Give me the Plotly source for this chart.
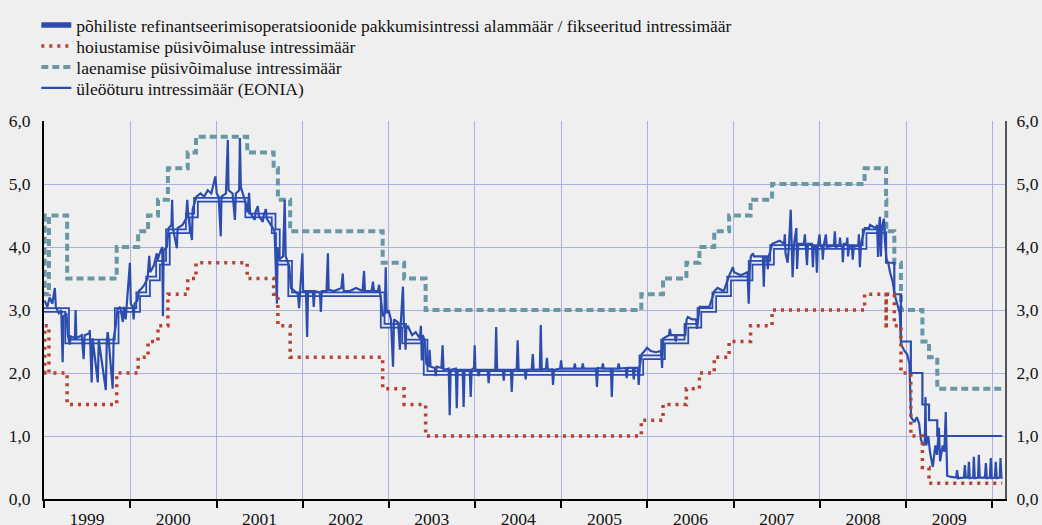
import pandas as pd
import plotly.graph_objects as go

# ECB key rates (step changes) and EONIA
mro_dates = ["1999-01-01", "1999-04-09", "1999-11-05", "2000-02-04", "2000-03-17", "2000-04-28",
             "2000-06-09", "2000-09-01", "2000-10-06", "2001-05-11", "2001-08-31", "2001-09-18",
             "2001-11-09", "2002-12-06", "2003-03-07", "2003-06-06", "2005-12-06", "2006-03-08",
             "2006-06-15", "2006-08-09", "2006-10-11", "2006-12-13", "2007-03-14", "2007-06-13",
             "2008-07-09", "2008-10-08", "2008-11-12", "2008-12-10", "2009-01-21", "2009-03-11",
             "2009-04-08", "2009-05-13", "2010-02-12"]
mro_values = [3.00, 2.50, 3.00, 3.25, 3.50, 3.75, 4.25, 4.50, 4.75, 4.50, 4.25, 3.75, 3.25, 2.75,
              2.50, 2.00, 2.25, 2.50, 2.75, 3.00, 3.25, 3.50, 3.75, 4.00, 4.25, 3.75, 3.25, 2.50,
              2.00, 1.50, 1.25, 1.00, 1.00]
fixed_rate_from = "2008-10-08"

deposit_dates = ["1999-01-01", "1999-01-04", "1999-01-22", "1999-04-09", "1999-11-05", "2000-02-04",
                 "2000-03-17", "2000-04-28", "2000-06-09", "2000-09-01", "2000-10-06", "2001-05-11",
                 "2001-08-31", "2001-09-18", "2001-11-09", "2002-12-06", "2003-03-07", "2003-06-06",
                 "2005-12-06", "2006-03-08", "2006-06-15", "2006-08-09", "2006-10-11", "2006-12-13",
                 "2007-03-14", "2007-06-13", "2008-07-09", "2008-10-08", "2008-10-09", "2008-11-12",
                 "2008-12-10", "2009-01-21", "2009-03-11", "2009-04-08", "2010-02-12"]
deposit_values = [2.00, 2.75, 2.00, 1.50, 2.00, 2.25, 2.50, 2.75, 3.25, 3.50, 3.75, 3.50, 3.25, 2.75,
                  2.25, 1.75, 1.50, 1.00, 1.25, 1.50, 1.75, 2.00, 2.25, 2.50, 2.75, 3.00, 3.25, 2.75,
                  3.25, 2.75, 2.00, 1.00, 0.50, 0.25, 0.25]

lending_dates = ["1999-01-01", "1999-01-04", "1999-01-22", "1999-04-09", "1999-11-05", "2000-02-04",
                 "2000-03-17", "2000-04-28", "2000-06-09", "2000-09-01", "2000-10-06", "2001-05-11",
                 "2001-08-31", "2001-09-18", "2001-11-09", "2002-12-06", "2003-03-07", "2003-06-06",
                 "2005-12-06", "2006-03-08", "2006-06-15", "2006-08-09", "2006-10-11", "2006-12-13",
                 "2007-03-14", "2007-06-13", "2008-07-09", "2008-10-08", "2008-10-09", "2008-11-12",
                 "2008-12-10", "2009-03-11", "2009-04-08", "2009-05-13", "2010-02-24"]
lending_values = [4.50, 3.25, 4.50, 3.50, 4.00, 4.25, 4.50, 4.75, 5.25, 5.50, 5.75, 5.50, 5.25, 4.75,
                  4.25, 3.75, 3.50, 3.00, 3.25, 3.50, 3.75, 4.00, 4.25, 4.50, 4.75, 5.00, 5.25, 4.75,
                  4.25, 3.75, 3.00, 2.50, 2.25, 1.75, 1.75]

eonia = [
    ("1999-01-04", 3.15), ("1999-01-15", 3.05), ("1999-01-25", 3.2), ("1999-02-05", 3.1),
    ("1999-02-16", 3.35), ("1999-02-20", 3.05), ("1999-03-05", 2.95), ("1999-03-15", 3.0),
    ("1999-03-21", 2.17), ("1999-03-25", 2.9), ("1999-04-06", 2.95), ("1999-04-12", 2.6),
    ("1999-04-20", 2.45), ("1999-04-24", 2.58), ("1999-05-12", 2.55), ("1999-05-15", 3.0),
    ("1999-05-18", 2.55), ("1999-06-10", 2.6), ("1999-06-18", 2.22), ("1999-06-22", 2.6),
    ("1999-07-12", 2.63), ("1999-07-14", 2.68), ("1999-07-22", 1.85), ("1999-07-26", 2.55),
    ("1999-08-17", 1.85), ("1999-08-21", 2.52), ("1999-09-20", 1.73), ("1999-09-24", 2.5),
    ("1999-09-28", 2.65), ("1999-10-02", 2.52), ("1999-10-19", 1.75), ("1999-10-23", 2.55),
    ("1999-11-01", 2.75), ("1999-11-08", 3.0), ("1999-11-20", 3.05), ("1999-12-01", 2.81),
    ("1999-12-05", 3.05), ("1999-12-13", 2.85), ("1999-12-18", 3.1), ("1999-12-31", 3.75),
    ("2000-01-04", 3.1), ("2000-01-12", 3.05), ("2000-01-16", 2.85), ("2000-01-20", 3.1),
    ("2000-02-01", 3.15), ("2000-02-07", 3.3), ("2000-02-20", 3.35), ("2000-03-01", 3.4),
    ("2000-03-15", 3.5), ("2000-03-22", 3.86), ("2000-03-26", 3.6), ("2000-04-10", 3.7),
    ("2000-04-23", 3.9), ("2000-04-27", 3.8), ("2000-05-05", 3.9), ("2000-05-16", 4.0),
    ("2000-05-19", 2.9), ("2000-05-22", 3.95), ("2000-06-05", 4.0), ("2000-06-12", 4.3),
    ("2000-06-24", 4.35), ("2000-06-27", 4.75), ("2000-06-30", 4.3), ("2000-07-17", 3.98),
    ("2000-07-20", 4.3), ("2000-08-10", 4.35), ("2000-08-25", 4.45), ("2000-08-30", 4.75),
    ("2000-09-03", 4.5), ("2000-09-19", 4.11), ("2000-09-22", 4.6), ("2000-10-08", 4.8),
    ("2000-10-25", 4.85), ("2000-11-10", 4.8), ("2000-11-25", 4.9), ("2000-12-10", 4.85),
    ("2000-12-27", 5.12), ("2001-01-02", 4.85), ("2001-01-10", 4.8), ("2001-01-19", 4.17),
    ("2001-01-22", 4.8), ("2001-02-10", 4.85), ("2001-02-18", 5.7), ("2001-02-21", 4.9),
    ("2001-03-10", 4.85), ("2001-03-20", 4.43), ("2001-03-24", 4.85), ("2001-04-07", 4.9),
    ("2001-04-10", 5.73), ("2001-04-14", 4.95), ("2001-05-05", 4.7), ("2001-05-12", 4.55),
    ("2001-05-19", 4.86), ("2001-05-23", 4.55), ("2001-06-12", 4.43), ("2001-06-15", 4.55),
    ("2001-06-25", 4.65), ("2001-06-29", 4.5), ("2001-07-16", 4.4), ("2001-07-20", 4.5),
    ("2001-07-29", 4.6), ("2001-08-02", 4.45), ("2001-08-28", 4.3), ("2001-09-04", 4.25),
    ("2001-09-14", 3.1), ("2001-09-17", 4.0), ("2001-09-21", 3.8), ("2001-10-10", 3.85),
    ("2001-10-17", 4.75), ("2001-10-21", 3.85), ("2001-11-05", 3.7), ("2001-11-12", 3.35),
    ("2001-11-28", 3.3), ("2001-12-12", 3.25), ("2001-12-17", 3.03), ("2001-12-21", 3.3),
    ("2001-12-31", 3.9), ("2002-01-03", 3.3), ("2002-01-15", 3.3), ("2002-01-20", 2.57),
    ("2002-01-24", 3.3), ("2002-02-13", 3.3), ("2002-02-17", 3.05), ("2002-02-21", 3.3),
    ("2002-03-15", 3.28), ("2002-03-19", 2.97), ("2002-03-23", 3.3), ("2002-04-12", 3.3),
    ("2002-04-18", 3.9), ("2002-04-21", 3.32), ("2002-05-15", 3.3), ("2002-06-14", 3.35),
    ("2002-06-20", 3.58), ("2002-06-24", 3.3), ("2002-07-20", 3.3), ("2002-08-15", 3.35),
    ("2002-09-12", 3.3), ("2002-09-18", 3.62), ("2002-09-22", 3.3), ("2002-10-20", 3.3),
    ("2002-10-26", 3.45), ("2002-10-30", 3.3), ("2002-11-16", 3.3), ("2002-11-21", 3.4),
    ("2002-11-25", 3.25), ("2002-12-02", 3.1), ("2002-12-07", 2.9), ("2002-12-15", 2.95),
    ("2002-12-19", 3.68), ("2002-12-23", 2.95), ("2002-12-31", 3.0), ("2003-01-10", 2.85),
    ("2003-01-19", 2.1), ("2003-01-23", 2.85), ("2003-02-10", 2.8), ("2003-02-17", 2.37),
    ("2003-02-21", 2.8), ("2003-03-02", 3.37), ("2003-03-06", 2.75), ("2003-03-10", 2.7),
    ("2003-03-13", 2.37), ("2003-03-16", 2.7), ("2003-03-22", 2.75), ("2003-04-10", 2.6),
    ("2003-04-25", 2.65), ("2003-05-13", 2.55), ("2003-05-17", 2.75), ("2003-05-21", 2.2),
    ("2003-05-25", 2.6), ("2003-06-03", 2.5), ("2003-06-09", 2.15), ("2003-06-19", 2.1),
    ("2003-06-23", 2.37), ("2003-06-27", 2.1), ("2003-07-15", 2.08), ("2003-07-19", 1.95),
    ("2003-07-23", 2.1), ("2003-08-12", 2.08), ("2003-08-17", 2.44), ("2003-08-21", 2.05),
    ("2003-09-12", 2.07), ("2003-09-16", 1.33), ("2003-09-20", 2.05), ("2003-10-12", 2.07),
    ("2003-10-16", 1.44), ("2003-10-20", 2.05), ("2003-11-10", 2.05), ("2003-11-14", 1.46),
    ("2003-11-18", 2.05), ("2003-12-10", 2.05), ("2003-12-14", 1.62), ("2003-12-18", 2.05),
    ("2003-12-28", 2.08), ("2003-12-31", 2.44), ("2004-01-03", 2.05), ("2004-01-13", 2.05),
    ("2004-01-17", 1.95), ("2004-01-21", 2.05), ("2004-02-24", 2.05), ("2004-02-28", 1.84),
    ("2004-03-03", 2.05), ("2004-03-27", 2.05), ("2004-03-31", 2.73), ("2004-04-04", 2.05),
    ("2004-04-28", 2.05), ("2004-05-02", 1.88), ("2004-05-06", 2.05), ("2004-06-01", 2.05),
    ("2004-06-05", 1.7), ("2004-06-09", 2.05), ("2004-06-26", 2.06), ("2004-06-30", 2.52),
    ("2004-07-04", 2.05), ("2004-07-30", 2.05), ("2004-08-03", 1.9), ("2004-08-07", 2.05),
    ("2004-08-29", 2.06), ("2004-09-02", 2.3), ("2004-09-06", 2.05), ("2004-10-02", 2.06),
    ("2004-10-06", 2.76), ("2004-10-10", 2.05), ("2004-10-28", 2.07), ("2004-11-01", 2.24),
    ("2004-11-05", 2.05), ("2004-11-23", 2.06), ("2004-11-27", 1.81), ("2004-12-01", 2.05),
    ("2004-12-27", 2.07), ("2004-12-31", 2.2), ("2005-01-04", 2.07), ("2005-02-24", 2.07),
    ("2005-02-27", 2.15), ("2005-03-03", 2.07), ("2005-03-29", 2.07), ("2005-04-02", 2.15),
    ("2005-04-06", 2.07), ("2005-05-28", 2.07), ("2005-06-01", 1.78), ("2005-06-05", 2.08),
    ("2005-06-22", 2.07), ("2005-06-26", 2.15), ("2005-06-30", 2.07), ("2005-07-30", 2.07),
    ("2005-08-03", 1.62), ("2005-08-07", 2.07), ("2005-08-28", 2.07), ("2005-09-01", 2.15),
    ("2005-09-05", 2.07), ("2005-10-01", 2.08), ("2005-10-05", 1.92), ("2005-10-09", 2.08),
    ("2005-10-31", 2.08), ("2005-11-04", 1.9), ("2005-11-08", 2.08), ("2005-11-21", 2.08),
    ("2005-11-25", 1.81), ("2005-11-29", 2.1), ("2005-12-08", 2.3), ("2005-12-20", 2.35),
    ("2005-12-30", 2.4), ("2006-01-15", 2.35), ("2006-02-05", 2.33), ("2006-02-28", 2.35),
    ("2006-03-04", 2.08), ("2006-03-09", 2.55), ("2006-04-02", 2.6), ("2006-04-06", 2.7),
    ("2006-04-10", 2.6), ("2006-04-27", 2.6), ("2006-05-01", 2.5), ("2006-05-05", 2.6),
    ("2006-06-10", 2.6), ("2006-06-16", 2.85), ("2006-06-21", 2.89), ("2006-07-10", 2.85),
    ("2006-07-26", 2.85), ("2006-07-30", 2.7), ("2006-08-03", 2.85), ("2006-08-10", 3.05),
    ("2006-09-20", 3.05), ("2006-10-12", 3.3), ("2006-10-25", 3.35), ("2006-11-20", 3.3),
    ("2006-12-14", 3.55), ("2006-12-29", 3.68), ("2007-01-03", 3.6), ("2007-02-01", 3.55),
    ("2007-03-01", 3.6), ("2007-03-06", 3.1), ("2007-03-10", 3.6), ("2007-03-15", 3.85),
    ("2007-03-24", 3.9), ("2007-03-28", 3.85), ("2007-04-10", 3.85), ("2007-05-05", 3.85),
    ("2007-05-09", 3.37), ("2007-05-13", 3.85), ("2007-05-22", 3.85), ("2007-05-26", 3.65),
    ("2007-05-30", 3.85), ("2007-06-14", 4.05), ("2007-07-15", 4.1), ("2007-08-03", 4.05),
    ("2007-08-06", 4.2), ("2007-08-09", 3.9), ("2007-08-18", 3.75), ("2007-08-24", 4.05),
    ("2007-08-31", 4.59), ("2007-09-04", 4.0), ("2007-09-08", 3.52), ("2007-09-14", 4.05),
    ("2007-09-24", 4.3), ("2007-09-27", 3.65), ("2007-10-02", 4.05), ("2007-10-26", 4.05),
    ("2007-10-30", 4.2), ("2007-11-03", 4.0), ("2007-11-08", 3.71), ("2007-11-12", 4.05),
    ("2007-11-29", 4.05), ("2007-12-03", 3.68), ("2007-12-07", 4.0), ("2007-12-16", 4.0),
    ("2007-12-20", 3.59), ("2007-12-24", 4.0), ("2007-12-31", 4.2), ("2008-01-04", 4.0),
    ("2008-01-11", 4.02), ("2008-01-14", 3.8), ("2008-01-18", 4.02), ("2008-01-27", 4.2),
    ("2008-01-31", 4.0), ("2008-03-01", 4.02), ("2008-03-05", 4.25), ("2008-03-09", 4.0),
    ("2008-03-24", 4.02), ("2008-03-27", 4.15), ("2008-03-31", 4.0), ("2008-04-05", 4.02),
    ("2008-04-08", 3.76), ("2008-04-12", 4.05), ("2008-04-24", 4.05), ("2008-04-27", 4.15),
    ("2008-04-30", 3.85), ("2008-05-04", 4.0), ("2008-05-16", 4.02), ("2008-05-20", 3.8),
    ("2008-05-24", 4.0), ("2008-06-12", 4.02), ("2008-06-15", 4.2), ("2008-06-19", 3.68),
    ("2008-06-24", 4.05), ("2008-07-10", 4.3), ("2008-07-28", 4.3), ("2008-08-01", 4.35),
    ("2008-08-25", 4.3), ("2008-08-31", 4.35), ("2008-09-04", 3.84), ("2008-09-08", 4.3),
    ("2008-09-12", 4.48), ("2008-09-16", 3.85), ("2008-09-20", 4.3), ("2008-09-29", 4.45),
    ("2008-10-03", 4.1), ("2008-10-10", 3.8), ("2008-10-17", 3.75), ("2008-10-25", 3.6),
    ("2008-11-05", 3.45), ("2008-11-13", 3.25), ("2008-11-20", 3.15), ("2008-12-05", 2.95),
    ("2008-12-11", 2.45), ("2008-12-25", 2.35), ("2009-01-05", 2.3), ("2009-01-15", 2.15),
    ("2009-01-22", 1.3), ("2009-02-05", 1.22), ("2009-02-15", 1.3), ("2009-02-25", 1.2),
    ("2009-03-05", 0.94), ("2009-03-15", 0.85), ("2009-03-21", 0.9), ("2009-03-24", 1.62),
    ("2009-03-27", 0.85), ("2009-04-05", 1.0), ("2009-04-12", 0.75), ("2009-04-24", 0.51),
    ("2009-05-05", 0.85), ("2009-05-12", 0.7), ("2009-05-20", 1.13), ("2009-05-25", 0.6),
    ("2009-06-05", 0.85), ("2009-06-12", 0.75), ("2009-06-18", 1.38), ("2009-06-24", 0.37),
    ("2009-07-10", 0.35), ("2009-08-01", 0.34), ("2009-08-05", 0.46), ("2009-08-09", 0.33),
    ("2009-09-03", 0.34), ("2009-09-07", 0.54), ("2009-09-11", 0.34), ("2009-09-21", 0.34),
    ("2009-09-24", 0.59), ("2009-09-28", 0.33), ("2009-10-12", 0.34), ("2009-10-15", 0.67),
    ("2009-10-19", 0.33), ("2009-11-02", 0.34), ("2009-11-05", 0.7), ("2009-11-09", 0.34),
    ("2009-12-01", 0.34), ("2009-12-05", 0.57), ("2009-12-09", 0.33), ("2009-12-22", 0.34),
    ("2009-12-26", 0.65), ("2009-12-30", 0.33), ("2010-01-12", 0.34), ("2010-01-16", 0.59),
    ("2010-01-20", 0.33), ("2010-02-02", 0.34), ("2010-02-05", 0.65), ("2010-02-09", 0.33),
    ("2010-02-13", 0.34),
]
eonia_dates = [d for d, _ in eonia]
eonia_values = [v for _, v in eonia]

names = [
    "põhiliste refinantseerimisoperatsioonide pakkumisintressi alammäär / fikseeritud intressimäär",
    "hoiustamise püsivõimaluse intressimäär",
    "laenamise püsivõimaluse intressimäär",
    "üleööturu intressimäär (EONIA)",
]
y_ticks = [0, 1, 2, 3, 4, 5, 6]

BLUE = "#2c4dae"
RED = "#b8402f"
TEAL = "#6897a6"
GRID = "#aab0e2"
BG = "#efefef"
FONT = "Liberation Serif"

mro = pd.DataFrame({"date": pd.to_datetime(mro_dates), "rate": mro_values})
cut = pd.Timestamp(fixed_rate_from)
prev_rate = mro.loc[mro["date"] < cut, "rate"].iloc[-1]
mro_var = pd.concat([mro[mro["date"] < cut], pd.DataFrame({"date": [cut], "rate": [prev_rate]})])
mro_fix = pd.concat([pd.DataFrame({"date": [cut], "rate": [prev_rate]}), mro[mro["date"] >= cut]])

fig = go.Figure()

fig.add_trace(go.Scatter(
    x=deposit_dates, y=deposit_values, mode="lines", line_shape="hv", name=names[1],
    line=dict(color=RED, width=3.5, dash="3px,5px"), legend="legend2", yaxis="y2"))
fig.add_trace(go.Scatter(
    x=lending_dates, y=lending_values, mode="lines", line_shape="hv", name=names[2],
    line=dict(color=TEAL, width=4, dash="7px,4px"), legend="legend3"))
fig.add_trace(go.Scatter(
    x=mro_var["date"], y=mro_var["rate"], mode="lines", line_shape="hv", name=names[0],
    line=dict(color=BLUE, width=5.5), legend="legend"))
# light core of the double line
fig.add_trace(go.Scatter(
    x=mro_var["date"], y=mro_var["rate"], mode="lines", line_shape="hv", showlegend=False,
    line=dict(color="#dfe5f6", width=2), hoverinfo="skip"))
fig.add_trace(go.Scatter(
    x=mro_fix["date"], y=mro_fix["rate"], mode="lines", line_shape="hv", showlegend=False,
    line=dict(color=BLUE, width=2.2)))
fig.add_trace(go.Scatter(
    x=eonia_dates, y=eonia_values, mode="lines", name=names[3],
    line=dict(color=BLUE, width=2.2), legend="legend4"))

plot_top, plot_h = 121, 378


# one legend per row so the rows sit where the reference has them
def legend_row(center_px):
    return dict(
        x=-0.008, xanchor="left", y=1 + (plot_top - center_px) / plot_h, yanchor="middle",
        bgcolor="rgba(0,0,0,0)", font=dict(family=FONT, size=17.5, color="#111"),
    )


fig.update_layout(
    width=1042, height=525,
    margin=dict(l=44, r=37, t=121, b=26, autoexpand=False),
    paper_bgcolor=BG, plot_bgcolor=BG,
    separators=",.",
    font=dict(family=FONT, size=17.5, color="#111"),
    legend=legend_row(25), legend2=legend_row(46),
    legend3=legend_row(67), legend4=legend_row(88),
    xaxis=dict(
        type="date", range=["1999-01-01", "2010-02-24"],
        tick0="1999-01-01", dtick="M12", tickformat="%Y", ticklabelmode="period",
        ticks="outside", ticklen=7, tickwidth=2, tickcolor="#000", ticklabelstandoff=-4,
        showline=True, linecolor="#000", linewidth=2, automargin=False,
        showgrid=True, gridcolor=GRID, gridwidth=1, zeroline=False,
    ),
    yaxis=dict(
        range=[0, 6], tickvals=y_ticks, tickformat=".1f", automargin=False,
        showgrid=True, gridcolor=GRID, gridwidth=1, zeroline=False,
        showline=True, linecolor="#000", linewidth=2, ticks="", ticklabelstandoff=8,
    ),
    yaxis2=dict(
        range=[0, 6], tickvals=y_ticks, tickformat=".1f", overlaying="y", side="right",
        showgrid=False, zeroline=False, showline=True, linecolor="#555", linewidth=2,
        ticks="", ticklabelstandoff=6, automargin=False,
    ),
)

fig.write_html("out.html", config={"displayModeBar": False},
               post_script="document.body.style.margin = '0px';")
